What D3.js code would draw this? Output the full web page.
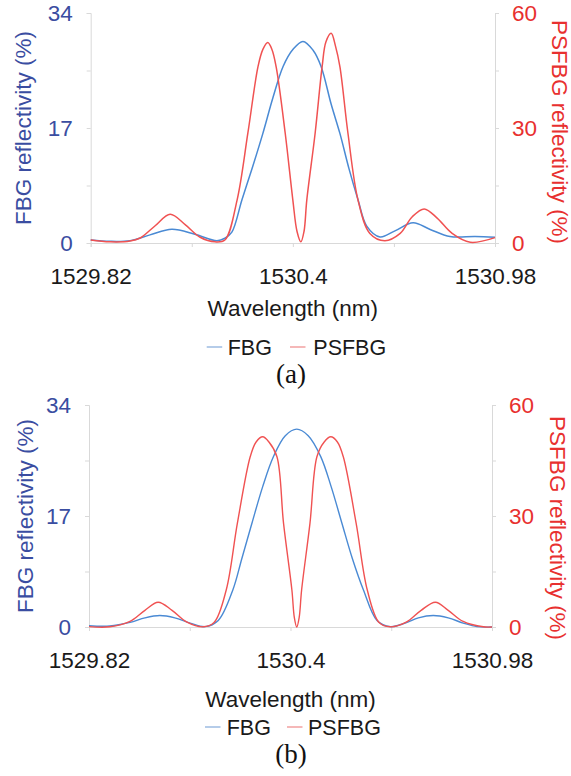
<!DOCTYPE html>
<html>
<head>
<meta charset="utf-8">
<script src="https://cdn.jsdelivr.net/npm/d3@7"></script>
<style>
  body { margin: 0; background: #fff; }
  svg { display: block; font-family: "Liberation Sans", Arial, sans-serif; }
  .axis path, .axis line { stroke: #d9d9d9; }
</style>
</head>
<body>
<div id="chart"></div>
<script>
(function (d3) {
    'use strict';

    var seriesNames = ['FBG', 'PSFBG'];
    var xTicks = [1529.82, 1530.11, 1530.4, 1530.69, 1530.98];
    var xLabels = [1529.82, 1530.4, 1530.98];
    var leftTicks = [0, 8.5, 17, 25.5, 34];
    var leftLabels = [0, 17, 34];
    var rightTicks = [0, 15, 30, 45, 60];
    var rightLabels = [0, 30, 60];

    // (a) FBG reflectivity, left axis (%)
    var fbgA = [
        [1529.82, 0.45], [1529.875, 0.25], [1529.933, 0.35], [1529.99, 1.2],
        [1530.053, 2.05], [1530.119, 1.3], [1530.182, 0.35], [1530.205, 0.7],
        [1530.225, 1.6], [1530.254, 6.4], [1530.283, 11], [1530.314, 16.2],
        [1530.343, 21.5], [1530.372, 26.1], [1530.4, 28.6], [1530.429, 29.8],
        [1530.458, 28.5], [1530.481, 26.1], [1530.51, 20.5], [1530.535, 16.2],
        [1530.561, 11], [1530.587, 6.4], [1530.612, 2.5], [1530.65, 0.9],
        [1530.693, 1.8], [1530.745, 3.0], [1530.794, 2.0], [1530.851, 0.95],
        [1530.923, 0.95], [1530.98, 0.85]
    ];
    // (a) PSFBG reflectivity, right axis (%)
    var psfbgA = [
        [1529.82, 0.8], [1529.875, 0.3], [1529.933, 0.5], [1529.962, 1.3],
        [1530.005, 4.5], [1530.048, 7.5], [1530.091, 4.8], [1530.134, 1.5],
        [1530.177, 0.3], [1530.205, 0.8], [1530.24, 11.2], [1530.271, 28.7],
        [1530.3, 46], [1530.314, 50.5], [1530.328, 52.3], [1530.34, 50.5],
        [1530.352, 46], [1530.378, 28.7], [1530.4, 11.2], [1530.412, 3],
        [1530.423, 0.3], [1530.432, 3], [1530.44, 11.2], [1530.464, 28.7],
        [1530.484, 46], [1530.495, 52.5], [1530.51, 54.7], [1530.522, 51.5],
        [1530.535, 46], [1530.558, 28.7], [1530.587, 11.2], [1530.621, 2.5],
        [1530.664, 0.6], [1530.708, 2.5], [1530.742, 6.8], [1530.777, 8.9],
        [1530.814, 6.5], [1530.857, 2.5], [1530.909, 0.2], [1530.98, 1.4]
    ];
    // (b) FBG reflectivity, left axis (%)
    var fbgB = [
        [1529.82, 0.2], [1529.88, 0.15], [1529.938, 0.7], [1529.981, 1.4],
        [1530.024, 1.75], [1530.067, 1.4], [1530.111, 0.6], [1530.154, 0.05],
        [1530.192, 1.0], [1530.234, 5.67], [1530.26, 10.5], [1530.289, 15.9],
        [1530.32, 21.5], [1530.351, 26.1], [1530.385, 29.3], [1530.418, 30.3],
        [1530.451, 29.3], [1530.487, 26.1], [1530.517, 21.5], [1530.548, 15.9],
        [1530.578, 10.5], [1530.61, 5.67], [1530.649, 1.0], [1530.687, 0.05],
        [1530.73, 0.6], [1530.768, 1.4], [1530.811, 1.75], [1530.854, 1.4],
        [1530.897, 0.6], [1530.937, 0.05], [1530.98, 0]
    ];
    // (b) PSFBG reflectivity, right axis (%)
    var psfbgB = [
        [1529.82, 0.1], [1529.88, 0.05], [1529.938, 1.5], [1529.981, 4.5],
        [1530.019, 6.7], [1530.059, 4.5], [1530.102, 1.3], [1530.148, 0.05],
        [1530.18, 1.2], [1530.215, 10], [1530.247, 28], [1530.284, 46],
        [1530.301, 50], [1530.32, 51.4], [1530.338, 50], [1530.361, 46],
        [1530.38, 28], [1530.404, 10], [1530.411, 2.6], [1530.418, 0],
        [1530.425, 2.6], [1530.432, 10], [1530.456, 28], [1530.476, 46],
        [1530.497, 50], [1530.516, 51.4], [1530.535, 50], [1530.552, 46],
        [1530.589, 28], [1530.621, 10], [1530.655, 1.2], [1530.687, 0.05],
        [1530.733, 1.3], [1530.776, 4.5], [1530.817, 6.7], [1530.854, 4.5],
        [1530.897, 1.5], [1530.955, 0.05], [1530.98, 0]
    ];

    var blueText = '#3a4da1';
    var redText = '#e8302f';
    var blueLine = '#4a8ad4';
    var redLine = '#f05252';

    var svg = d3.select('#chart').append('svg')
        .attr('width', 571)
        .attr('height', 776);

    svg.append('rect').attr('width', 571).attr('height', 776).attr('fill', '#fff');

    drawPanel({
        left: 90.7, right: 495, top: 13, bottom: 243,
        fbg: fbgA, psfbg: psfbgA,
        leftTitleX: 23, rightTitleX: 560, rightTitleY: 132,
        xTitleY: 316, legendY: 355, legendLines: [206.7, 290], legendText: [227.7, 313.3],
        caption: '(a)', captionY: 383, lineWidth: 1.5
    });

    drawPanel({
        left: 89, right: 492, top: 405, bottom: 627,
        fbg: fbgB, psfbg: psfbgB,
        leftTitleX: 25, rightTitleX: 558, rightTitleY: 528,
        xTitleY: 706.5, legendY: 735, legendLines: [205, 287], legendText: [226.7, 308],
        caption: '(b)', captionY: 763, lineWidth: 1.4
    });

    function drawPanel(p) {
        var x = d3.scaleLinear().domain([1529.82, 1530.98]).range([p.left, p.right]);
        var yL = d3.scaleLinear().domain([0, 34]).range([p.bottom, p.top]);
        var yR = d3.scaleLinear().domain([0, 60]).range([p.bottom, p.top]);

        // x-axis
        var gx = svg.append('g')
            .attr('class', 'axis')
            .attr('transform', 'translate(0,' + p.bottom + ')')
            .call(d3.axisBottom(x)
                .tickValues(xTicks)
                .tickSize(4)
                .tickPadding(21)
                .tickFormat(function (d) { return xLabels.indexOf(d) >= 0 ? d : ''; }));
        gx.selectAll('text').attr('fill', '#1a1a1a').style('font-size', '22.5px')
            .attr('font-family', null);

        // left axis
        var gl = svg.append('g')
            .attr('class', 'axis')
            .attr('transform', 'translate(' + p.left + ',0)')
            .call(d3.axisLeft(yL)
                .tickValues(leftTicks)
                .tickSize(4)
                .tickPadding(14)
                .tickFormat(function (d) { return leftLabels.indexOf(d) >= 0 ? d : ''; }));
        gl.selectAll('text').attr('fill', blueText).style('font-size', '22.5px')
            .attr('font-family', null);

        // right axis
        var gr = svg.append('g')
            .attr('class', 'axis')
            .attr('transform', 'translate(' + p.right + ',0)')
            .call(d3.axisRight(yR)
                .tickValues(rightTicks)
                .tickSize(4)
                .tickPadding(13)
                .tickFormat(function (d) { return rightLabels.indexOf(d) >= 0 ? d : ''; }));
        gr.selectAll('text').attr('fill', redText).style('font-size', '22.5px')
            .attr('font-family', null);

        var lineL = d3.line()
            .x(function (d) { return x(d[0]); })
            .y(function (d) { return yL(d[1]); })
            .curve(d3.curveCatmullRom.alpha(0.5));
        var lineR = d3.line()
            .x(function (d) { return x(d[0]); })
            .y(function (d) { return yR(d[1]); })
            .curve(d3.curveCatmullRom.alpha(0.5));

        svg.append('path')
            .datum(p.fbg)
            .attr('fill', 'none')
            .attr('stroke', blueLine)
            .attr('stroke-width', p.lineWidth)
            .attr('d', lineL);

        svg.append('path')
            .datum(p.psfbg)
            .attr('fill', 'none')
            .attr('stroke', redLine)
            .attr('stroke-width', p.lineWidth)
            .attr('d', lineR);

        // axis titles
        var midY = (p.top + p.bottom) / 2;
        svg.append('text')
            .attr('transform', 'translate(' + p.leftTitleX + ',' + midY + ') rotate(-90)')
            .attr('text-anchor', 'middle')
            .attr('dy', '0.35em')
            .attr('fill', blueText)
            .style('font-size', '22.5px')
            .text('FBG reflectivity (%)');

        svg.append('text')
            .attr('transform', 'translate(' + p.rightTitleX + ',' + p.rightTitleY + ') rotate(90)')
            .attr('text-anchor', 'middle')
            .attr('dy', '0.35em')
            .attr('fill', redText)
            .style('font-size', '22.5px')
            .text('PSFBG reflectivity (%)');

        svg.append('text')
            .attr('x', (p.left + p.right) / 2)
            .attr('y', p.xTitleY)
            .attr('text-anchor', 'middle')
            .attr('fill', '#1a1a1a')
            .style('font-size', '22.5px')
            .text('Wavelength (nm)');

        // legend
        var colors = ['#9dbbe2', '#f2a0a0'];
        seriesNames.forEach(function (name, i) {
            svg.append('line')
                .attr('x1', p.legendLines[i]).attr('x2', p.legendLines[i] + 15.5)
                .attr('y1', p.legendY - 8).attr('y2', p.legendY - 8)
                .attr('stroke', colors[i])
                .attr('stroke-width', 1.5);
            svg.append('text')
                .attr('x', p.legendText[i])
                .attr('y', p.legendY)
                .attr('fill', '#1a1a1a')
                .style('font-size', '21.5px')
                .text(name);
        });

        svg.append('text')
            .attr('x', 291)
            .attr('y', p.captionY)
            .attr('text-anchor', 'middle')
            .attr('fill', '#111')
            .style('font-family', '"Liberation Serif", "Times New Roman", serif')
            .style('font-size', '27px')
            .text(p.caption);
    }
})(d3);
</script>
</body>
</html>
